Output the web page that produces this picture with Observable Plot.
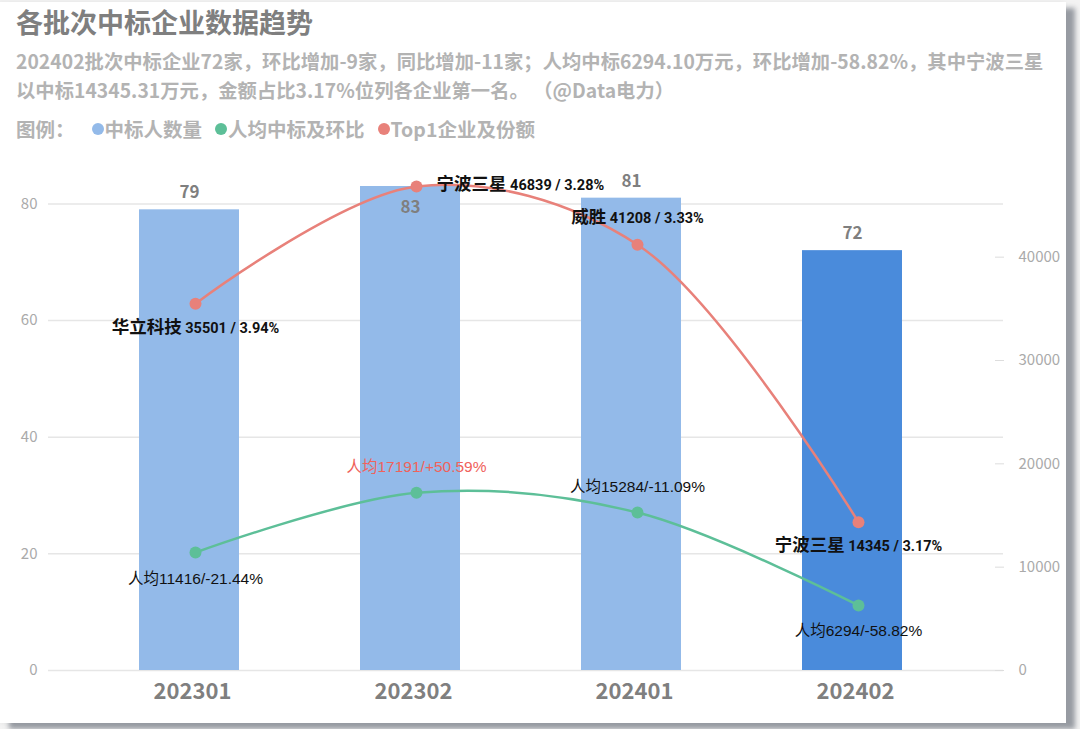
<!DOCTYPE html>
<html>
<head>
<meta charset="utf-8">
<script src="https://cdn.jsdelivr.net/npm/d3@7"></script>
<script src="https://cdn.jsdelivr.net/npm/@observablehq/plot@0.6"></script>
<style>
  html, body { margin: 0; padding: 0; }
  body { width: 1080px; height: 729px; background: #f3f3f3; position: relative; overflow: hidden;
         font-family: "Noto Sans CJK SC", "Noto Sans", sans-serif; }
  #card { position: absolute; left: 0; top: 2px; width: 1066px; height: 721px; background: #fff;
          box-shadow: 9px 6px 5px rgba(120,125,135,0.75), -2px 0 6px rgba(0,0,0,0.06); }
  #title { position: absolute; left: 16px; top: 2px; font-size: 27px; font-weight: bold; color: #7f7f7f; line-height: 40px; white-space: nowrap; }
  .sub { position: absolute; left: 16px; font-size: 19.3px; font-weight: bold; color: #b3b3b3; line-height: 24px; white-space: nowrap; letter-spacing: 0.05px; }
  #legend { position: absolute; left: 16px; top: 116px; font-size: 19.5px; font-weight: bold; color: #b3b3b3; line-height: 26px; white-space: nowrap; display: flex; align-items: center; }
  #legend .dot { display: inline-block; width: 12px; height: 12px; border-radius: 50%; margin-right: 1px; }
  #legend .item { display: flex; align-items: center; margin-right: 13px; }
  #chart { position: absolute; left: 0; top: 150px; }
</style>
</head>
<body>
<div id="card"></div>
<div id="title">各批次中标企业数据趋势</div>
<div class="sub" style="top:49px">202402批次中标企业72家，环比增加-9家，同比增加-11家；人均中标6294.10万元，环比增加-58.82%，其中宁波三星</div>
<div class="sub" style="top:77.5px">以中标14345.31万元，金额占比3.17%位列各企业第一名。 （@Data电力）</div>
<div id="legend"></div>
<div id="chart"></div>
<script>
// ---- data ----
const categories = ["202301", "202302", "202401", "202402"];
const bidders = [79, 83, 81, 72];                       // 中标人数量 (left axis)
const perCapita = [11416, 17191, 15284, 6294];          // 人均中标 (right axis, 万元)
const perCapitaChange = ["-21.44%", "+50.59%", "-11.09%", "-58.82%"];
const topCompany = ["华立科技", "宁波三星", "威胜", "宁波三星"];
const topAmount = [35501, 46839, 41208, 14345];         // Top1 企业中标额 (right axis)
const topShare = ["3.94%", "3.28%", "3.33%", "3.17%"];
const leftTicks = [0, 20, 40, 60, 80];
const rightTicks = [0, 10000, 20000, 30000, 40000];
const legendItems = ["中标人数量", "人均中标及环比", "Top1企业及份额"];
const colors = { bar: "#93bae9", barLast: "#4a8bdb", green: "#5dbf98", red: "#e8817a" };

// legend
const legend = document.getElementById("legend");
legend.innerHTML = `<span style="margin-right:17px">图例：</span>` +
  legendItems.map((t, i) => `<span class="item"><span class="dot" style="background:${[colors.bar, colors.green, colors.red][i]}"></span>${t}</span>`).join("");

// ---- chart ----
const leftMax = d3.max(bidders);
const rightMax = d3.max(topAmount);
const k = leftMax / rightMax;   // map right-axis values onto left scale

const rows = categories.map((c, i) => ({
  cat: c, i,
  n: bidders[i],
  pc: perCapita[i] * k,
  pcLabel: `人均${perCapita[i]}/${perCapitaChange[i]}`,
  pcUp: perCapitaChange[i].startsWith("+"),
  top: topAmount[i] * k,
  topLabel: `${topCompany[i]} ${topAmount[i]} / ${topShare[i]}`
}));
const last = rows.length - 1;
const maxN = leftMax;

const labelFont = "'Liberation Sans', 'Noto Sans CJK SC', sans-serif";

const plot = Plot.plot({
  width: 1080,
  height: 570,
  marginLeft: 48,
  marginRight: 77,
  marginTop: 36,
  marginBottom: 50,
  style: { fontFamily: "'Noto Sans CJK SC', sans-serif", background: "transparent", overflow: "visible" },
  x: { domain: categories, paddingInner: 0.5495, paddingOuter: 0.4257, align: 0.471, axis: null },
  y: { domain: [0, leftMax], axis: null },
  color: { type: "identity" },
  marks: [
    Plot.gridY(leftTicks, { stroke: "#e6e6e6", strokeOpacity: 1, strokeWidth: 1.5 }),
    Plot.axisY(leftTicks, { anchor: "left", tickSize: 0, tickPadding: 11, fill: "#aaaaaa", fontSize: 15, label: null }),
    Plot.axisY(rightTicks.map(t => t * k), { anchor: "right", tickFormat: d => String(Math.round(d / k)), tickSize: -9, tickPadding: 24, stroke: "#dddddd", fill: "#aaaaaa", fontSize: 15, label: null }),
    Plot.axisX({ tickSize: 0, tickPadding: 13, fontSize: 22, fontWeight: "bold", fill: "#7f7f7f", label: null, dx: 3 }),
    Plot.barY(rows, { x: "cat", y: "n", fill: d => d.i === last ? colors.barLast : colors.bar }),
    Plot.text(rows.filter(d => d.n !== maxN), { x: "cat", y: "n", text: d => String(d.n), dy: -17, fontSize: 17, fontWeight: "bold", fill: "#7f7f7f" }),
    Plot.text(rows.filter(d => d.n === maxN), { x: "cat", y: "n", text: d => String(d.n), dy: 21, fontSize: 17, fontWeight: "bold", fill: "#7f7f7f" }),
    // green line: per-capita
    Plot.line(rows, { x: "cat", y: "pc", curve: "catmull-rom", stroke: colors.green, strokeWidth: 2.5, dx: 6 }),
    Plot.dot(rows, { x: "cat", y: "pc", r: 6, fill: colors.green, dx: 6 }),
    // red line: top1
    Plot.line(rows, { x: "cat", y: "top", curve: "catmull-rom", stroke: colors.red, strokeWidth: 2.5, dx: 6 }),
    Plot.dot(rows, { x: "cat", y: "top", r: 6, fill: colors.red, dx: 6 }),
    // green labels
    Plot.text(rows.filter(d => d.i === 0 || d.i === last), { x: "cat", y: "pc", text: "pcLabel", dx: 6, dy: 26, fontSize: 15.5, fontFamily: labelFont, fill: d => d.pcUp ? "#f0625b" : "#111" }),
    Plot.text(rows.filter(d => d.i !== 0 && d.i !== last), { x: "cat", y: "pc", text: "pcLabel", dx: 6, dy: -26, fontSize: 15.5, fontFamily: labelFont, fill: d => d.pcUp ? "#f0625b" : "#111" }),
    // red labels
    Plot.text(rows.filter(d => d.i === 0 || d.i === last), { x: "cat", y: "top", text: "topLabel", dx: 6, dy: 26, fill: "#111" }),
    Plot.text(rows.filter(d => d.top === leftMax), { x: "cat", y: "top", text: "topLabel", dx: 26, dy: 0, textAnchor: "start", fill: "#111" }),
    Plot.text(rows.filter(d => d.i !== 0 && d.i !== last && d.top !== leftMax), { x: "cat", y: "top", text: "topLabel", dx: 6, dy: -25, fill: "#111" })
  ]
});
document.getElementById("chart").appendChild(plot);

// style the Top1 labels: company name larger, figures smaller
const topLabels = new Set(rows.map(d => d.topLabel));
d3.select(plot).selectAll("text").each(function () {
  const t = this.textContent;
  if (!topLabels.has(t)) return;
  const sp = t.indexOf(" ");
  const name = t.slice(0, sp), rest = t.slice(sp);
  const sel = d3.select(this);
  sel.text(null);
  sel.append("tspan").attr("font-size", 17.5).attr("font-weight", "bold").attr("font-family", "'Noto Sans CJK SC', sans-serif").text(name);
  sel.append("tspan").attr("font-size", 14.5).attr("font-weight", "bold").attr("font-family", "Roboto, sans-serif").attr("xml:space", "preserve").text(rest);
});
</script>
</body>
</html>
